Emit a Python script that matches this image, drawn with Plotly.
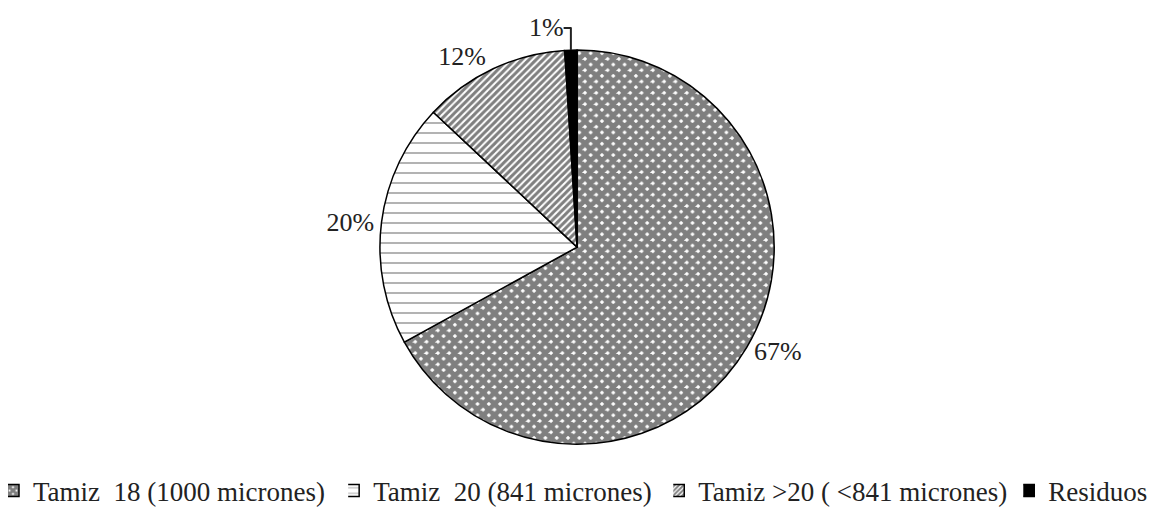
import plotly.graph_objects as go

labels = ["Tamiz  18 (1000 micrones)", "Tamiz  20 (841 micrones)",
          "Tamiz >20 ( <841 micrones)", "Residuos"]
values = [67, 20, 12, 1]
shapes = ["x", "-", "/", ""]
pattern_sizes = [8, 10, 5, 8]
solidities = [0.85, 0.12, 0.6, 0.3]
bg_colors = ["white", "white", "white", "black"]

# legend entries sit at fixed spots along the bottom
legend_x = [0.0, 0.2935, 0.574, 0.876]

FONT = "Liberation Serif"

fig = go.Figure()
fig.add_trace(go.Pie(
    labels=labels,
    values=values,
    sort=False,
    direction="clockwise",
    rotation=0,
    textposition="outside",
    texttemplate="%{percent:.0%}",
    textfont=dict(family=FONT, size=26, color="#222"),
    marker=dict(
        colors=bg_colors,
        line=dict(color="black", width=1.5),
        pattern=dict(shape=shapes, size=pattern_sizes, solidity=solidities,
                     fgcolor="black", fillmode="overlay"),
    ),
    domain=dict(x=[0.31, 0.672], y=[0.17, 1.0]),
    showlegend=False,
))

# one empty bar trace per slice, so each legend entry can be placed on its own
legend_layout = {}
for i, name in enumerate(labels):
    key = "legend" if i == 0 else f"legend{i + 1}"
    fig.add_trace(go.Bar(
        x=[None], y=[None], name=name, legend=key,
        marker=dict(color=bg_colors[i], line=dict(color="black", width=1.5),
                    pattern=dict(shape=shapes[i], size=pattern_sizes[i] // 2 + 2,
                                 solidity=solidities[i],
                                 fgcolor="black", fillmode="overlay")),
    ))
    legend_layout[key] = dict(x=legend_x[i], xanchor="left", y=0.02, yanchor="bottom",
                              bgcolor="rgba(0,0,0,0)", indentation=-15,
                              font=dict(family=FONT, size=27, color="#222"),
                              itemwidth=30)

fig.update_layout(
    width=1159, height=517,
    margin=dict(l=0, r=0, t=0, b=0),
    paper_bgcolor="white",
    plot_bgcolor="white",
    font=dict(family=FONT, size=26, color="#222"),
    xaxis=dict(visible=False),
    yaxis=dict(visible=False),
    **legend_layout,
)

fig.write_html("out.html")
